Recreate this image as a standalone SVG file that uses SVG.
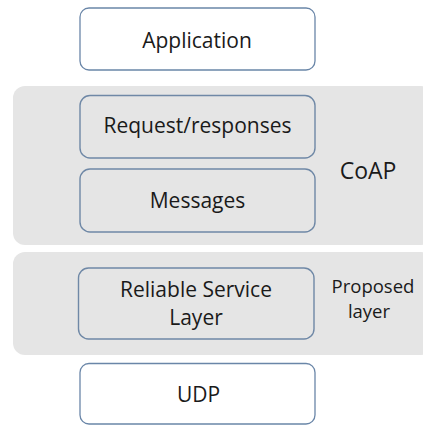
<svg xmlns="http://www.w3.org/2000/svg" width="423" height="425" viewBox="0 0 423 425">
<style>
.band{fill:#e5e5e5;stroke:none}
.box{fill:none;stroke:#6f88a6;stroke-width:1.4}
.wbox{fill:#ffffff;stroke:#6a86a8;stroke-width:1.3}
text{font-family:"Open Sans","Noto Sans","Liberation Sans",sans-serif;fill:#1a1a1a;text-anchor:middle}
.t{font-size:21px}
.s{font-size:18.5px}
.c{font-size:23px}
</style>
<rect width="423" height="425" fill="#ffffff"/>
<g id="coap-band">
<rect class="band" x="13" y="86" width="420" height="159" rx="12"/>
<text class="c" x="368" y="179">CoAP</text>
</g>
<g id="proposed-band">
<rect class="band" x="13" y="252" width="420" height="103" rx="12"/>
<text class="s" x="373" y="292.5">Proposed</text>
<text class="s" x="369" y="317.5">layer</text>
</g>
<g id="application">
<rect class="wbox" x="80" y="8" width="235" height="62" rx="9"/>
<text class="t" x="197" y="48">Application</text>
</g>
<g id="request-responses">
<rect class="box" x="80" y="95.5" width="235" height="62.5" rx="10"/>
<text class="t" x="197.5" y="133">Request/responses</text>
</g>
<g id="messages">
<rect class="box" x="80" y="169" width="235" height="63" rx="10"/>
<text class="t" x="197.5" y="208">Messages</text>
</g>
<g id="reliable-service-layer">
<rect class="box" x="78.5" y="268" width="235.5" height="71" rx="10"/>
<text class="t" x="196" y="296.5">Reliable Service</text>
<text class="t" x="196" y="325">Layer</text>
</g>
<g id="udp">
<rect class="wbox" x="80" y="363.5" width="235" height="60.5" rx="9"/>
<text class="t" x="198.5" y="402">UDP</text>
</g>
<g id="connectors"/>
</svg>
